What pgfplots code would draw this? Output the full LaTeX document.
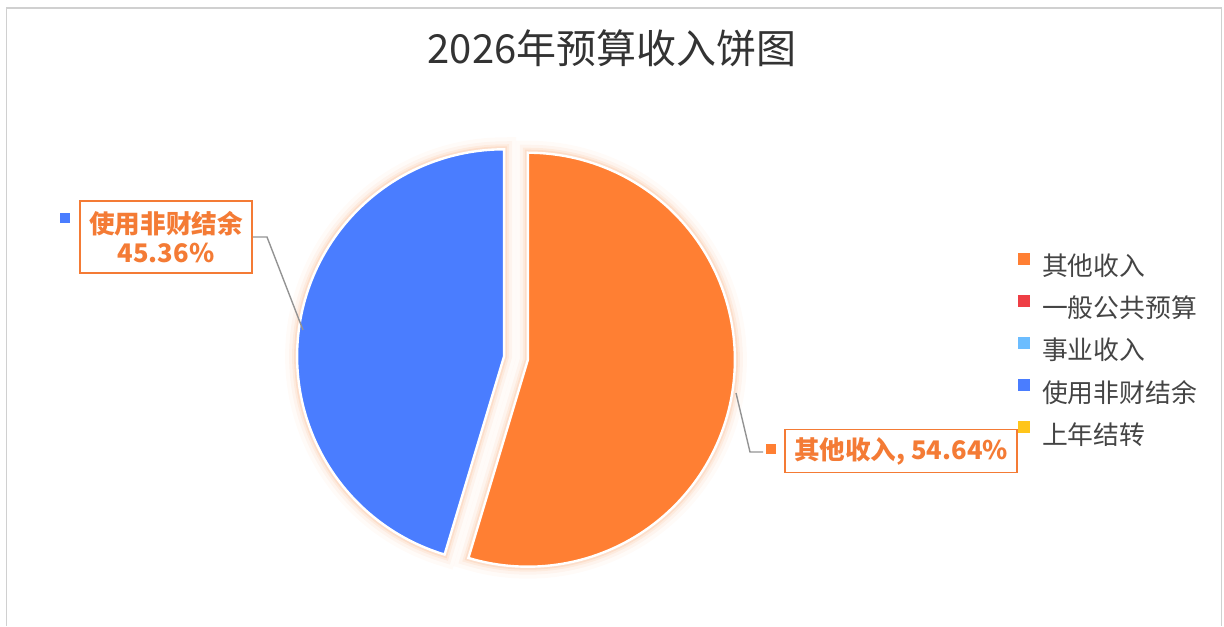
\documentclass[border=0pt]{standalone}
\usepackage{pgfplots}
\pgfplotsset{compat=1.18}
\usepackage{fontspec}
\setmainfont{Noto Sans CJK SC}
\newfontfamily\cjk{Noto Sans CJK SC}
\definecolor{pOrange}{HTML}{FF7F33}
\definecolor{pBlue}{HTML}{4A7DFF}
\definecolor{pRed}{HTML}{EE3E45}
\definecolor{pLBlue}{HTML}{6CBDFF}
\definecolor{pYellow}{HTML}{FFC51A}
\definecolor{lblOrange}{HTML}{F47B35}
\definecolor{frameGrey}{HTML}{D0D0D0}
\definecolor{titleGrey}{HTML}{333333}
\definecolor{legGrey}{HTML}{444444}
\definecolor{glow}{HTML}{F9B98F}
\def\vOther{54.64}
\def\vSurplus{45.36}
\pgfmathsetmacro\aMid{90-3.6*\vOther}
\def\R{207}
\def\cxO{527.9}\def\cyO{266.3}
\def\cxB{504.1}\def\cyB{269.7}
\newcommand\glowplot[2]{%
  \addplot[forget plot, draw=glow, line width=#1, draw opacity=#2, domain=\aMid:90, samples=120, variable=\t]
    ({\cxO + \R*cos(t)}, {\cyO + \R*sin(t)}) -- (axis cs:\cxO,\cyO) -- cycle;
  \addplot[forget plot, draw=glow, line width=#1, draw opacity=#2, domain=90:\aMid+360, samples=120, variable=\t]
    ({\cxB + \R*cos(t)}, {\cyB + \R*sin(t)}) -- (axis cs:\cxB,\cyB) -- cycle;
}
\begin{document}
\begin{tikzpicture}
\begin{axis}[
  scale only axis, width=612pt, height=313pt,
  xmin=0, xmax=1224, ymin=0, ymax=626,
  hide axis, clip=false,
  legend style={at={(axis cs:1018,373.5)}, anchor=north west, draw=none, fill=none,
    inner sep=0pt, outer sep=0pt, row sep=7.6pt, column sep=6pt,
    font=\fontsize{12.9}{14}\selectfont\color{legGrey},
    nodes={inner sep=0pt, text height=10pt, text depth=2pt}},
  legend cell align=left,
  legend image code/.code={\fill[#1] (0pt,1.5pt) rectangle (6pt,7.5pt);},
]
\path (axis cs:0,0) rectangle (axis cs:1224,626);
% frame
\draw[frameGrey, line width=0.9pt] (axis cs:6.5,0) -- (axis cs:6.5,618) -- (axis cs:1221.5,618) -- (axis cs:1221.5,0);
% glow layers
\glowplot{12pt}{0.06}
\glowplot{8pt}{0.10}
\glowplot{5pt}{0.16}
\glowplot{3pt}{0.25}
% slices
\addplot[forget plot, fill=pOrange, draw=white, line width=1.2pt, domain=\aMid:90, samples=120, variable=\t]
  ({\cxO + \R*cos(t)}, {\cyO + \R*sin(t)}) -- (axis cs:\cxO,\cyO) -- cycle;
\addplot[forget plot, fill=pBlue, draw=white, line width=1.2pt, domain=90:\aMid+360, samples=120, variable=\t]
  ({\cxB + \R*cos(t)}, {\cyB + \R*sin(t)}) -- (axis cs:\cxB,\cyB) -- cycle;
% legend
\addlegendimage{fill=pOrange, draw=none}
\addlegendentry{其他收入}
\addlegendimage{fill=pRed, draw=none}
\addlegendentry{一般公共预算}
\addlegendimage{fill=pLBlue, draw=none}
\addlegendentry{事业收入}
\addlegendimage{fill=pBlue, draw=none}
\addlegendentry{使用非财结余}
\addlegendimage{fill=pYellow, draw=none}
\addlegendentry{上年结转}
% leader lines
\draw[gray!85, line width=0.7pt] (axis cs:252,389) -- (axis cs:267,389) -- (axis cs:303,296);
\draw[gray!85, line width=0.7pt] (axis cs:736,233) -- (axis cs:750,174) -- (axis cs:763,174);
% data labels
\node[draw=lblOrange, line width=0.8pt, fill=white, minimum width=86pt, minimum height=36pt, inner sep=0pt,
  align=center, text=lblOrange, font=\fontsize{12.8}{14.5}\selectfont\bfseries] at (axis cs:166,389)
  {使用非财结余\\45.36\%};
\fill[pBlue] (axis cs:60,403) rectangle (axis cs:70,413);
\node[draw=lblOrange, line width=0.8pt, fill=white, minimum width=116pt, minimum height=21.5pt, inner sep=0pt,
  text=lblOrange, font=\fontsize{12.8}{14.5}\selectfont\bfseries] at (axis cs:901,175)
  {其他收入, 54.64\%};
\fill[pOrange] (axis cs:765.5,172.5) rectangle (axis cs:775.5,182.5);
% title
\node[text=titleGrey, font=\fontsize{20}{24}\selectfont] at (axis cs:612,578) {2026年预算收入饼图};
\end{axis}
\end{tikzpicture}
\end{document}
